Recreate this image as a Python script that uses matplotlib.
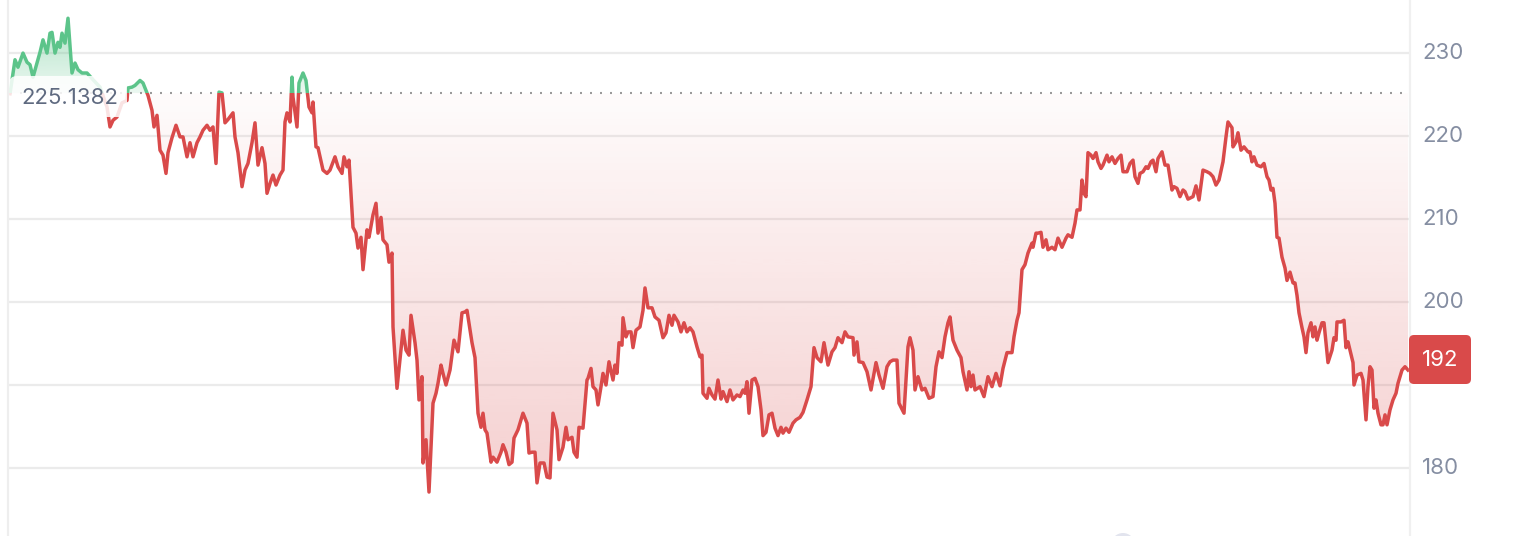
import numpy as np
import matplotlib
matplotlib.use("Agg")
import matplotlib.pyplot as plt
from matplotlib.path import Path
from matplotlib.patches import Rectangle, FancyBboxPatch, Circle, PathPatch
from matplotlib.lines import Line2D
from matplotlib.transforms import IdentityTransform

# ---------------- data ----------------
t = [10, 15, 18, 23, 27, 30, 33, 37, 40, 43, 47, 50, 52, 55, 58, 60, 62, 65, 68, 72,
     75, 78, 82, 85, 87, 93, 100, 107, 110, 113, 117, 122, 127, 128, 132, 135, 140, 143, 148, 152,
     154, 157, 160, 163, 166, 168, 172, 176, 180, 183, 187, 190, 193, 197, 200, 203, 207, 210, 213, 216,
     219, 222, 225, 228, 233, 235, 238, 242, 245, 248, 252, 255, 258, 262, 265, 267, 270, 273, 276, 280,
     283, 285, 287, 290, 292, 293, 297, 299, 303, 306, 309, 312, 313, 316, 318, 323, 327, 330, 335, 338,
     342, 344, 347, 349, 353, 356, 358, 361, 363, 367, 369, 373, 376, 378, 381, 383, 387, 389, 392, 393,
     397, 401, 403, 406, 409, 411, 415, 417, 419, 422, 423, 426, 429, 433, 436, 438, 441, 443, 446, 450,
     454, 458, 462, 465, 467, 472, 475, 478, 481, 483, 485, 487, 491, 493, 497, 501, 503, 506, 509, 512,
     514, 518, 521, 523, 527, 529, 532, 535, 537, 540, 544, 547, 550, 553, 557, 559, 563, 566, 568, 572,
     574, 577, 579, 583, 587, 588, 591, 593, 596, 598, 601, 603, 606, 609, 613, 615, 617, 619, 622, 623,
     626, 628, 631, 633, 636, 640, 643, 645, 648, 652, 655, 659, 663, 666, 669, 672, 674, 678, 681, 684,
     687, 690, 693, 697, 700, 702, 703, 707, 709, 712, 715, 718, 721, 723, 727, 730, 733, 737, 740, 743,
     745, 747, 749, 752, 755, 758, 761, 763, 766, 769, 772, 775, 778, 781, 783, 786, 789, 793, 796, 800,
     803, 807, 811, 814, 817, 821, 824, 828, 832, 835, 838, 842, 845, 848, 853, 854, 857, 859, 863, 867,
     871, 876, 879, 883, 887, 890, 893, 897, 899, 904, 908, 910, 913, 915, 918, 922, 925, 929, 933, 936,
     939, 942, 945, 948, 950, 953, 957, 961, 963, 967, 969, 971, 973, 975, 980, 984, 988, 992, 996, 1000,
     1003, 1007, 1012, 1014, 1017, 1019, 1022, 1025, 1028, 1032, 1033, 1036, 1038, 1041, 1043, 1046, 1048, 1052, 1055, 1058,
     1062, 1066, 1068, 1072, 1075, 1077, 1080, 1082, 1084, 1086, 1088, 1091, 1093, 1096, 1098, 1101, 1103, 1107, 1109, 1112,
     1115, 1118, 1121, 1123, 1127, 1130, 1133, 1135, 1138, 1140, 1143, 1146, 1148, 1151, 1153, 1156, 1158, 1162, 1165, 1168,
     1172, 1174, 1177, 1180, 1183, 1185, 1188, 1193, 1196, 1199, 1203, 1207, 1210, 1213, 1216, 1219, 1223, 1226, 1228, 1232,
     1233, 1236, 1238, 1241, 1244, 1248, 1250, 1252, 1254, 1257, 1261, 1264, 1267, 1269, 1271, 1273, 1275, 1277, 1279, 1282,
     1285, 1287, 1290, 1293, 1295, 1297, 1299, 1302, 1304, 1306, 1308, 1311, 1313, 1315, 1317, 1319, 1322, 1324, 1326, 1328,
     1332, 1334, 1336, 1337, 1341, 1344, 1346, 1348, 1350, 1353, 1354, 1357, 1361, 1363, 1366, 1368, 1370, 1372, 1374, 1376,
     1378, 1381, 1383, 1385, 1387, 1390, 1393, 1396, 1398, 1402, 1405, 1408]

price = [225.1, 229.2, 228.3, 230.0, 228.9, 228.6, 227.1, 228.8, 230.1, 231.6, 230.0, 232.4, 232.5, 230.0, 231.3, 230.7, 232.4, 231.2, 234.2, 227.6,
         228.8, 228.0, 227.6, 227.6, 227.6, 226.8, 225.9, 223.5, 221.1, 221.9, 222.3, 224.0, 224.3, 225.8, 225.9, 226.1, 226.7, 226.4, 224.9, 223.1,
         221.1, 222.5, 218.3, 217.7, 215.5, 218.0, 219.8, 221.3, 219.9, 219.9, 217.5, 219.2, 217.5, 219.2, 219.9, 220.7, 221.3, 220.7, 221.1, 216.7,
         225.3, 225.2, 221.6, 222.0, 222.8, 219.9, 218.0, 213.9, 215.9, 216.7, 219.2, 221.6, 216.5, 218.6, 216.7, 213.1, 214.3, 215.3, 214.1, 215.3,
         215.9, 221.7, 222.8, 221.7, 227.1, 224.7, 221.1, 226.4, 227.6, 226.7, 223.5, 222.8, 224.1, 218.7, 218.6, 215.9, 215.5, 215.9, 217.5, 216.3,
         215.5, 217.5, 216.3, 217.1, 209.0, 208.3, 206.5, 207.8, 203.9, 208.7, 207.8, 210.5, 211.9, 208.3, 210.2, 207.5, 206.9, 204.8, 205.9, 197.0,
         189.6, 194.2, 196.6, 194.2, 193.6, 198.4, 195.1, 193.0, 188.2, 191.0, 180.6, 183.4, 177.1, 187.8, 189.0, 190.2, 192.4, 191.4, 190.0, 191.8,
         195.4, 194.0, 198.7, 198.8, 199.0, 195.1, 193.3, 186.6, 184.9, 186.6, 184.6, 184.2, 180.7, 181.3, 180.7, 181.9, 182.8, 181.9, 180.4, 180.7,
         183.6, 184.6, 185.8, 186.6, 185.4, 181.8, 181.9, 181.9, 178.2, 180.6, 180.6, 178.9, 178.8, 186.6, 184.6, 181.0, 182.5, 184.9, 183.4, 183.7,
         181.9, 181.3, 184.9, 184.8, 190.6, 190.8, 192.0, 189.8, 189.4, 187.6, 189.8, 191.4, 190.0, 192.8, 190.6, 192.4, 191.4, 195.1, 194.8, 198.1,
         195.8, 196.4, 196.4, 194.5, 196.6, 197.0, 199.0, 201.7, 199.3, 199.3, 198.2, 197.8, 195.7, 196.3, 198.4, 197.2, 198.4, 197.6, 196.4, 197.5,
         196.4, 196.9, 196.4, 194.6, 193.4, 193.6, 189.0, 188.4, 189.6, 188.8, 188.3, 190.6, 188.3, 189.2, 188.0, 189.4, 188.2, 188.8, 188.6, 189.4,
         189.0, 190.4, 186.6, 190.6, 190.8, 189.8, 187.0, 183.9, 184.3, 186.4, 186.6, 184.8, 183.9, 184.9, 184.2, 184.8, 184.3, 185.4, 185.8, 186.1,
         186.7, 188.2, 189.8, 194.5, 193.3, 192.8, 195.1, 192.4, 194.0, 194.5, 195.7, 195.1, 196.4, 195.8, 195.7, 193.6, 195.2, 192.8, 192.7, 191.6,
         189.4, 192.7, 191.2, 189.6, 192.2, 192.8, 193.0, 193.0, 187.8, 186.6, 194.6, 195.7, 194.2, 189.4, 191.0, 189.4, 189.6, 188.4, 188.6, 192.2,
         194.0, 193.3, 195.8, 197.5, 198.2, 195.4, 194.2, 193.3, 191.6, 189.4, 191.6, 189.8, 191.2, 189.4, 189.8, 188.6, 191.0, 189.8, 191.4, 189.9,
         192.0, 193.9, 193.9, 195.8, 197.8, 198.7, 203.9, 204.5, 205.9, 207.1, 206.6, 208.3, 208.3, 208.4, 206.6, 207.5, 206.3, 206.6, 206.3, 207.7,
         206.6, 207.7, 208.1, 207.8, 209.5, 211.1, 211.1, 214.7, 213.1, 212.7, 218.0, 217.7, 217.3, 218.0, 216.9, 216.1, 216.5, 217.7, 216.9, 217.5,
         216.7, 217.3, 217.7, 215.7, 215.7, 216.7, 217.1, 215.1, 214.3, 215.5, 215.7, 216.3, 216.1, 216.9, 217.1, 215.7, 217.3, 218.1, 216.5, 216.5,
         213.5, 213.9, 213.7, 212.7, 213.5, 213.3, 212.4, 212.7, 214.0, 212.3, 215.9, 215.7, 215.5, 215.1, 214.1, 214.7, 216.9, 219.9, 221.7, 221.0,
         218.7, 219.3, 220.4, 218.3, 218.7, 218.1, 218.1, 216.9, 217.5, 216.5, 216.3, 216.7, 215.1, 214.7, 213.5, 213.7, 211.9, 207.8, 207.7, 205.4,
         204.1, 202.6, 203.6, 202.3, 202.3, 200.8, 198.7, 196.9, 195.8, 193.9, 196.3, 197.5, 195.8, 197.0, 195.4, 196.3, 197.5, 197.5, 195.1, 192.7,
         194.2, 195.7, 195.4, 197.6, 197.6, 197.8, 194.5, 195.2, 194.2, 192.7, 190.0, 191.2, 191.4, 190.6, 185.8, 189.8, 192.2, 191.8, 187.2, 188.2,
         186.6, 185.2, 185.2, 186.4, 185.2, 187.0, 188.2, 189.0, 190.2, 191.8, 192.2, 191.8]

base_price = 225.1382
base_label = "225.1382"
last_label = "192"
y_ticks = [180, 190, 200, 210, 220, 230]
y_tick_labels = ["180", "", "200", "210", "220", "230"]

# ---------------- style ----------------
RED = "#d94a4a"
GREEN = "#5cc48a"
GRID = "#ebebeb"
TICK = "#858ea2"
plt.rcParams["font.family"] = ["Inter", "DejaVu Sans"]

W, H = 1524, 536
fig = plt.figure(figsize=(W / 100, H / 100), dpi=100)
fig.patch.set_facecolor("white")
X0, X1 = 8, 1410
ax = fig.add_axes([X0 / W, 0, (X1 - X0) / W, 1])
YLO, YHI = 171.8, 236.4

tt = np.array(t, float)
pp = np.array(price, float)

# grid
for v in y_ticks:
    ax.axhline(v, color=GRID, lw=1.6, zorder=0)

# gradient fill between line and baseline
poly = ax.fill_between(tt, pp, base_price, color="none", lw=0)
clip = Path.make_compound_path(*poly.get_paths())
clip_patch = PathPatch(clip, transform=ax.transData, facecolor="none", edgecolor="none")
ax.add_patch(clip_patch)

n = 256
yr = np.linspace(YLO, base_price, n)
ar = 0.02 + (base_price - yr) / (base_price - 180) * 0.23
img_r = np.zeros((n, 1, 4))
img_r[..., 0:3] = matplotlib.colors.to_rgb(RED)
img_r[:, 0, 3] = ar
im1 = ax.imshow(img_r, extent=[X0, X1, YLO, base_price], origin="lower",
                aspect="auto", interpolation="bilinear", zorder=1)
im1.set_clip_path(clip_patch)

yg = np.linspace(base_price, YHI, n)
ag = 0.12 + (yg - base_price) / (YHI - base_price) * 0.45
img_g = np.zeros((n, 1, 4))
img_g[..., 0:3] = matplotlib.colors.to_rgb(GREEN)
img_g[:, 0, 3] = ag
im2 = ax.imshow(img_g, extent=[X0, X1, base_price, YHI], origin="lower",
                aspect="auto", interpolation="bilinear", zorder=1)
im2.set_clip_path(clip_patch)

ax.set_xlim(X0, X1)
ax.set_ylim(YLO, YHI)
ax.axis("off")

# baseline dotted
ax.plot([X0 + 2, X1 - 4], [base_price, base_price], color="#9a9a9a", lw=1.5,
        linestyle=(0, (0.95, 3.85)), zorder=2)

# price line split by baseline
lg, = ax.plot(tt, pp, color=GREEN, lw=2.5, zorder=3, solid_joinstyle="round")
lg.set_clip_path(Rectangle((X0, base_price), X1 - X0, YHI - base_price + 5, transform=ax.transData))
lr, = ax.plot(tt, pp, color=RED, lw=2.5, zorder=3, solid_joinstyle="round")
lr.set_clip_path(Rectangle((X0, YLO - 5), X1 - X0, base_price - YLO + 5, transform=ax.transData))

# y tick labels on right
for v, s in zip(y_ticks, y_tick_labels):
    if s:
        ax.text((1422 - X0) / (X1 - X0), v, s, transform=ax.get_yaxis_transform(),
                ha="left", va="center", color=TICK, fontsize=16, clip_on=False)

ident = IdentityTransform()
fig.add_artist(Line2D([8, 8], [0, H], transform=ident, color="#eeeeee", lw=1.6))
fig.add_artist(Line2D([1410, 1410], [0, H], transform=ident, color="#f0f0f0", lw=1.6))

# baseline label box
fig.add_artist(FancyBboxPatch((9, H - 117), 118, 41, boxstyle="round,pad=0,rounding_size=8",
                              transform=ident, facecolor="white", edgecolor="none", alpha=0.85, zorder=5))
fig.text(21 / W, (H - 98) / H, base_label, ha="left", va="center", color="#5f6a80",
         fontsize=16, zorder=6)

# last price badge
fig.add_artist(FancyBboxPatch((1409, H - 384), 62, 49, boxstyle="round,pad=0,rounding_size=5",
                              transform=ident, facecolor=RED, edgecolor="none", zorder=5))
fig.text(1440 / W, (H - 360) / H, last_label, ha="center", va="center", color="white",
         fontsize=16, zorder=6)

fig.add_artist(Circle((1123, -9), 12, transform=ident, facecolor="#e2e4ee", edgecolor="none", zorder=4))

fig.savefig("out.png", dpi=100)
